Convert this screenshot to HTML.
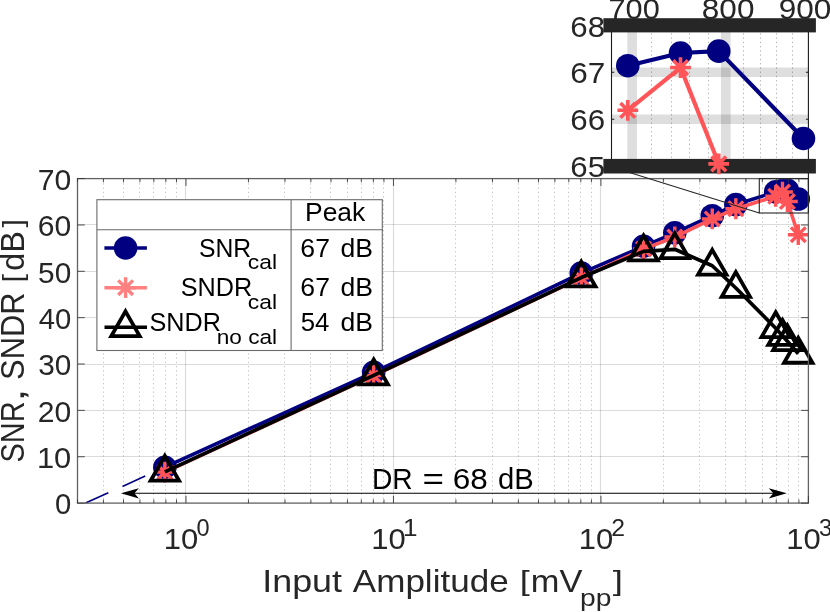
<!DOCTYPE html>
<html><head><meta charset="utf-8"><title>SNR, SNDR vs Input Amplitude</title>
<style>html,body{margin:0;padding:0;background:#fff;}body{width:830px;height:612px;overflow:hidden;font-family:"Liberation Sans",sans-serif;}svg{display:block;will-change:transform;}</style></head>
<body>
<svg width="830" height="612" viewBox="0 0 830 612" font-family="'Liberation Sans', sans-serif">
<rect width="830" height="612" fill="#fff"/>
<g stroke="#000" stroke-opacity="0.23" stroke-width="1" stroke-dasharray="1.3 2.95"><line x1="103.50" y1="179.0" x2="103.50" y2="503.1"/><line x1="123.50" y1="179.0" x2="123.50" y2="503.1"/><line x1="139.50" y1="179.0" x2="139.50" y2="503.1"/><line x1="153.50" y1="179.0" x2="153.50" y2="503.1"/><line x1="165.50" y1="179.0" x2="165.50" y2="503.1"/><line x1="176.50" y1="179.0" x2="176.50" y2="503.1"/><line x1="248.50" y1="179.0" x2="248.50" y2="503.1"/><line x1="284.50" y1="179.0" x2="284.50" y2="503.1"/><line x1="310.50" y1="179.0" x2="310.50" y2="503.1"/><line x1="330.50" y1="179.0" x2="330.50" y2="503.1"/><line x1="347.50" y1="179.0" x2="347.50" y2="503.1"/><line x1="361.50" y1="179.0" x2="361.50" y2="503.1"/><line x1="373.50" y1="179.0" x2="373.50" y2="503.1"/><line x1="383.50" y1="179.0" x2="383.50" y2="503.1"/><line x1="455.50" y1="179.0" x2="455.50" y2="503.1"/><line x1="492.50" y1="179.0" x2="492.50" y2="503.1"/><line x1="518.50" y1="179.0" x2="518.50" y2="503.1"/><line x1="538.50" y1="179.0" x2="538.50" y2="503.1"/><line x1="554.50" y1="179.0" x2="554.50" y2="503.1"/><line x1="568.50" y1="179.0" x2="568.50" y2="503.1"/><line x1="580.50" y1="179.0" x2="580.50" y2="503.1"/><line x1="591.50" y1="179.0" x2="591.50" y2="503.1"/><line x1="663.50" y1="179.0" x2="663.50" y2="503.1"/><line x1="699.50" y1="179.0" x2="699.50" y2="503.1"/><line x1="725.50" y1="179.0" x2="725.50" y2="503.1"/><line x1="745.50" y1="179.0" x2="745.50" y2="503.1"/><line x1="762.50" y1="179.0" x2="762.50" y2="503.1"/><line x1="776.50" y1="179.0" x2="776.50" y2="503.1"/><line x1="788.50" y1="179.0" x2="788.50" y2="503.1"/><line x1="798.50" y1="179.0" x2="798.50" y2="503.1"/></g>
<g stroke="#000" stroke-opacity="0.14" stroke-width="1.2"><line x1="185.50" y1="178.6" x2="185.50" y2="503.1"/><line x1="393.50" y1="178.6" x2="393.50" y2="503.1"/><line x1="600.50" y1="178.6" x2="600.50" y2="503.1"/><line x1="77.5" y1="456.50" x2="808.4" y2="456.50"/><line x1="77.5" y1="410.50" x2="808.4" y2="410.50"/><line x1="77.5" y1="364.50" x2="808.4" y2="364.50"/><line x1="77.5" y1="317.50" x2="808.4" y2="317.50"/><line x1="77.5" y1="271.50" x2="808.4" y2="271.50"/><line x1="77.5" y1="224.50" x2="808.4" y2="224.50"/></g>
<line x1="85.57" y1="503.1" x2="164.86" y2="467.22" stroke="#000080" stroke-width="1.6" stroke-dasharray="25 15.5"/>
<polyline fill="none" stroke="#000080" stroke-width="3.6" stroke-linejoin="round" points="164.86,467.22 373.69,372.28 581.27,273.17 643.56,246.28 674.79,232.84 712.25,215.69 735.85,204.56 775.71,191.86 782.48,190.61 787.39,190.42 798.27,199.04" />
<circle cx="164.86" cy="467.22" r="11.8" fill="#000080"/>
<circle cx="373.69" cy="372.28" r="11.8" fill="#000080"/>
<circle cx="581.27" cy="273.17" r="11.8" fill="#000080"/>
<circle cx="643.56" cy="246.28" r="11.8" fill="#000080"/>
<circle cx="674.79" cy="232.84" r="11.8" fill="#000080"/>
<circle cx="712.25" cy="215.69" r="11.8" fill="#000080"/>
<circle cx="735.85" cy="204.56" r="11.8" fill="#000080"/>
<circle cx="775.71" cy="191.86" r="11.8" fill="#000080"/>
<circle cx="782.48" cy="190.61" r="11.8" fill="#000080"/>
<circle cx="787.39" cy="190.42" r="11.8" fill="#000080"/>
<circle cx="798.27" cy="199.04" r="11.8" fill="#000080"/>
<polyline fill="none" stroke="#ff5558" stroke-width="3.6" stroke-linejoin="round" points="164.86,472.09 373.69,375.62 581.27,277.80 643.56,249.06 674.79,237.01 712.25,218.93 735.85,208.73 775.71,196.26 782.48,192.04 787.39,201.55 798.27,234.69" />
<path d="M154.46 472.09H175.26M164.86 461.69V482.49M157.50 464.73L172.21 479.44M157.50 479.44L172.21 464.73" stroke="#ff5558" stroke-width="3.4" fill="none"/>
<path d="M363.29 375.62H384.09M373.69 365.22V386.02M366.33 368.26L381.04 382.97M366.33 382.97L381.04 368.26" stroke="#ff5558" stroke-width="3.4" fill="none"/>
<path d="M570.87 277.80H591.67M581.27 267.40V288.20M573.92 270.45L588.62 285.16M573.92 285.16L588.62 270.45" stroke="#ff5558" stroke-width="3.4" fill="none"/>
<path d="M633.16 249.06H653.96M643.56 238.66V259.46M636.20 241.71L650.91 256.42M636.20 256.42L650.91 241.71" stroke="#ff5558" stroke-width="3.4" fill="none"/>
<path d="M664.39 237.01H685.19M674.79 226.61V247.41M667.44 229.66L682.15 244.36M667.44 244.36L682.15 229.66" stroke="#ff5558" stroke-width="3.4" fill="none"/>
<path d="M701.85 218.93H722.65M712.25 208.53V229.33M704.89 211.58L719.60 226.28M704.89 226.28L719.60 211.58" stroke="#ff5558" stroke-width="3.4" fill="none"/>
<path d="M725.45 208.73H746.25M735.85 198.33V219.13M728.49 201.38L743.20 216.09M728.49 216.09L743.20 201.38" stroke="#ff5558" stroke-width="3.4" fill="none"/>
<path d="M765.31 196.26H786.11M775.71 185.86V206.66M768.35 188.91L783.06 203.62M768.35 203.62L783.06 188.91" stroke="#ff5558" stroke-width="3.4" fill="none"/>
<path d="M772.08 192.04H792.88M782.48 181.64V202.44M775.12 184.69L789.83 199.40M775.12 199.40L789.83 184.69" stroke="#ff5558" stroke-width="3.4" fill="none"/>
<path d="M776.99 201.55H797.79M787.39 191.15V211.95M780.03 194.19L794.74 208.90M780.03 208.90L794.74 194.19" stroke="#ff5558" stroke-width="3.4" fill="none"/>
<path d="M787.87 234.69H808.67M798.27 224.29V245.09M790.92 227.34L805.63 242.05M790.92 242.05L805.63 227.34" stroke="#ff5558" stroke-width="3.4" fill="none"/>
<polyline fill="none" stroke="#000" stroke-width="3.7" stroke-linejoin="round" points="164.86,471.81 373.69,375.39 581.27,277.57 643.56,251.38 674.79,249.29 712.25,265.75 735.85,288.00 775.71,328.19 782.48,335.89 787.39,341.31 798.27,353.83" />
<path d="M164.86 455.91L179.06 480.71H150.66Z" fill="none" stroke="#000" stroke-width="3.8" stroke-linejoin="miter" stroke-miterlimit="10"/>
<path d="M373.69 359.49L387.89 384.29H359.49Z" fill="none" stroke="#000" stroke-width="3.8" stroke-linejoin="miter" stroke-miterlimit="10"/>
<path d="M581.27 261.67L595.47 286.47H567.07Z" fill="none" stroke="#000" stroke-width="3.8" stroke-linejoin="miter" stroke-miterlimit="10"/>
<path d="M643.56 235.48L657.76 260.28H629.36Z" fill="none" stroke="#000" stroke-width="3.8" stroke-linejoin="miter" stroke-miterlimit="10"/>
<path d="M674.79 233.39L688.99 258.19H660.59Z" fill="none" stroke="#000" stroke-width="3.8" stroke-linejoin="miter" stroke-miterlimit="10"/>
<path d="M712.25 249.85L726.45 274.65H698.05Z" fill="none" stroke="#000" stroke-width="3.8" stroke-linejoin="miter" stroke-miterlimit="10"/>
<path d="M735.85 272.10L750.05 296.90H721.65Z" fill="none" stroke="#000" stroke-width="3.8" stroke-linejoin="miter" stroke-miterlimit="10"/>
<path d="M775.71 312.29L789.91 337.09H761.51Z" fill="none" stroke="#000" stroke-width="3.8" stroke-linejoin="miter" stroke-miterlimit="10"/>
<path d="M782.48 319.99L796.68 344.79H768.28Z" fill="none" stroke="#000" stroke-width="3.8" stroke-linejoin="miter" stroke-miterlimit="10"/>
<path d="M787.39 325.41L801.59 350.21H773.19Z" fill="none" stroke="#000" stroke-width="3.8" stroke-linejoin="miter" stroke-miterlimit="10"/>
<path d="M798.27 337.93L812.47 362.73H784.07Z" fill="none" stroke="#000" stroke-width="3.8" stroke-linejoin="miter" stroke-miterlimit="10"/>
<rect x="77.5" y="178.6" width="730.90" height="324.50" fill="none" stroke="#626262" stroke-width="1.3"/>
<g stroke="#3a3a3a" stroke-width="0.9" fill="none"><path d="M77.50 503.1v-3.65M77.50 178.6v3.65"/><path d="M103.42 503.1v-3.65M103.42 178.6v3.65"/><path d="M123.53 503.1v-3.65M123.53 178.6v3.65"/><path d="M139.96 503.1v-3.65M139.96 178.6v3.65"/><path d="M153.85 503.1v-3.65M153.85 178.6v3.65"/><path d="M165.88 503.1v-3.65M165.88 178.6v3.65"/><path d="M176.49 503.1v-3.65M176.49 178.6v3.65"/><path d="M185.98 503.1v-7.3M185.98 178.6v7.3"/><path d="M248.44 503.1v-3.65M248.44 178.6v3.65"/><path d="M284.97 503.1v-3.65M284.97 178.6v3.65"/><path d="M310.89 503.1v-3.65M310.89 178.6v3.65"/><path d="M331.00 503.1v-3.65M331.00 178.6v3.65"/><path d="M347.43 503.1v-3.65M347.43 178.6v3.65"/><path d="M361.32 503.1v-3.65M361.32 178.6v3.65"/><path d="M373.35 503.1v-3.65M373.35 178.6v3.65"/><path d="M383.96 503.1v-3.65M383.96 178.6v3.65"/><path d="M393.46 503.1v-7.3M393.46 178.6v7.3"/><path d="M455.91 503.1v-3.65M455.91 178.6v3.65"/><path d="M492.44 503.1v-3.65M492.44 178.6v3.65"/><path d="M518.37 503.1v-3.65M518.37 178.6v3.65"/><path d="M538.47 503.1v-3.65M538.47 178.6v3.65"/><path d="M554.90 503.1v-3.65M554.90 178.6v3.65"/><path d="M568.79 503.1v-3.65M568.79 178.6v3.65"/><path d="M580.82 503.1v-3.65M580.82 178.6v3.65"/><path d="M591.43 503.1v-3.65M591.43 178.6v3.65"/><path d="M600.93 503.1v-7.3M600.93 178.6v7.3"/><path d="M663.38 503.1v-3.65M663.38 178.6v3.65"/><path d="M699.92 503.1v-3.65M699.92 178.6v3.65"/><path d="M725.84 503.1v-3.65M725.84 178.6v3.65"/><path d="M745.94 503.1v-3.65M745.94 178.6v3.65"/><path d="M762.37 503.1v-3.65M762.37 178.6v3.65"/><path d="M776.26 503.1v-3.65M776.26 178.6v3.65"/><path d="M788.29 503.1v-3.65M788.29 178.6v3.65"/><path d="M798.91 503.1v-3.65M798.91 178.6v3.65"/><path d="M808.40 503.1v-7.3M808.40 178.6v7.3"/><path d="M77.5 503.10h7.3M808.4 503.10h-7.3"/><path d="M77.5 456.74h7.3M808.4 456.74h-7.3"/><path d="M77.5 410.39h7.3M808.4 410.39h-7.3"/><path d="M77.5 364.03h7.3M808.4 364.03h-7.3"/><path d="M77.5 317.67h7.3M808.4 317.67h-7.3"/><path d="M77.5 271.31h7.3M808.4 271.31h-7.3"/><path d="M77.5 224.96h7.3M808.4 224.96h-7.3"/><path d="M77.5 178.60h7.3M808.4 178.60h-7.3"/></g>
<rect x="759.3" y="178.6" width="49.10" height="34.40" fill="none" stroke="#262626" stroke-width="1.1"/>
<line x1="759.3" y1="213" x2="611.8" y2="167.0" stroke="#262626" stroke-width="1.1"/>
<line x1="130" y1="493.3" x2="778" y2="493.3" stroke="#000" stroke-width="1.1"/>
<path d="M120.9 493.3L138.9 488.2L134.4 493.3L138.9 498.40000000000003Z" fill="#000"/>
<path d="M786.8 493.3L768.8 488.2L773.3 493.3L768.8 498.40000000000003Z" fill="#000"/>
<text x="371.99" y="488.70" font-size="29" textLength="40.72" lengthAdjust="spacingAndGlyphs" fill="#000" >DR</text><text x="422.44" y="488.70" font-size="29" textLength="21.46" lengthAdjust="spacingAndGlyphs" fill="#000" >=</text><text x="452.72" y="488.70" font-size="29" textLength="35.04" lengthAdjust="spacingAndGlyphs" fill="#000" >68</text><text x="497.97" y="488.70" font-size="29" textLength="35.75" lengthAdjust="spacingAndGlyphs" fill="#000" >dB</text>
<text x="54.96" y="514.30" font-size="30" textLength="16.26" lengthAdjust="spacingAndGlyphs" fill="#262626" >0</text>
<text x="36.95" y="467.94" font-size="30" textLength="34.33" lengthAdjust="spacingAndGlyphs" fill="#262626" >10</text>
<text x="37.80" y="421.59" font-size="30" textLength="33.46" lengthAdjust="spacingAndGlyphs" fill="#262626" >20</text>
<text x="38.17" y="375.23" font-size="30" textLength="33.07" lengthAdjust="spacingAndGlyphs" fill="#262626" >30</text>
<text x="38.66" y="328.87" font-size="30" textLength="32.57" lengthAdjust="spacingAndGlyphs" fill="#262626" >40</text>
<text x="38.11" y="282.51" font-size="30" textLength="33.13" lengthAdjust="spacingAndGlyphs" fill="#262626" >50</text>
<text x="37.80" y="236.16" font-size="30" textLength="33.46" lengthAdjust="spacingAndGlyphs" fill="#262626" >60</text>
<text x="37.76" y="189.80" font-size="30" textLength="33.49" lengthAdjust="spacingAndGlyphs" fill="#262626" >70</text>
<text x="163.85" y="549.20" font-size="30" textLength="34.44" lengthAdjust="spacingAndGlyphs" fill="#262626" >10</text>
<text x="196.58" y="535.50" font-size="23.4" textLength="13.12" lengthAdjust="spacingAndGlyphs" fill="#262626" >0</text>
<text x="371.32" y="549.20" font-size="30" textLength="34.44" lengthAdjust="spacingAndGlyphs" fill="#262626" >10</text>
<text x="402.98" y="535.50" font-size="23.4" textLength="14.55" lengthAdjust="spacingAndGlyphs" fill="#262626" >1</text>
<text x="578.79" y="549.20" font-size="30" textLength="34.44" lengthAdjust="spacingAndGlyphs" fill="#262626" >10</text>
<text x="611.21" y="535.50" font-size="23.4" textLength="13.78" lengthAdjust="spacingAndGlyphs" fill="#262626" >2</text>
<text x="786.26" y="549.20" font-size="30" textLength="34.44" lengthAdjust="spacingAndGlyphs" fill="#262626" >10</text>
<text x="819.01" y="535.50" font-size="23.4" textLength="13.23" lengthAdjust="spacingAndGlyphs" fill="#262626" >3</text>
<text x="262.31" y="592.00" font-size="32" textLength="79.65" lengthAdjust="spacingAndGlyphs" fill="#262626" >Input</text><text x="352.83" y="592.00" font-size="32" textLength="155.81" lengthAdjust="spacingAndGlyphs" fill="#262626" >Amplitude</text><text x="530.83" y="592.00" font-size="32" textLength="51.61" lengthAdjust="spacingAndGlyphs" fill="#262626" >mV</text>
<text x="519.74" y="590.00" font-size="28.4" textLength="10.00" lengthAdjust="spacingAndGlyphs" fill="#262626" >[</text>
<text x="580.00" y="605.60" font-size="23" textLength="31.37" lengthAdjust="spacingAndGlyphs" fill="#262626" >pp</text>
<text x="612.84" y="590.00" font-size="28.4" textLength="10.14" lengthAdjust="spacingAndGlyphs" fill="#262626" >]</text>
<g transform="translate(23.5,0) rotate(-90)"><text x="-462.50" y="0.00" font-size="32.5" textLength="61.15" lengthAdjust="spacingAndGlyphs" fill="#262626" >SNR</text><text x="-401.64" y="0.00" font-size="32.5" textLength="12.91" lengthAdjust="spacingAndGlyphs" fill="#262626" >,</text><text x="-379.89" y="0.00" font-size="32.5" textLength="87.32" lengthAdjust="spacingAndGlyphs" fill="#262626" >SNDR</text><text x="-270.66" y="0.00" font-size="32.5" textLength="39.65" lengthAdjust="spacingAndGlyphs" fill="#262626" >dB</text><text x="-282.60" y="-2.00" font-size="28.4" textLength="8.61" lengthAdjust="spacingAndGlyphs" fill="#262626" >[</text><text x="-227.51" y="-2.00" font-size="28.4" textLength="8.33" lengthAdjust="spacingAndGlyphs" fill="#262626" >]</text></g>
<rect x="96.9" y="199.7" width="285.40" height="150.80" fill="#fff" stroke="#6a6a6a" stroke-width="1.1"/>
<path d="M96.9 229.7H382.3M291.1 199.7V350.5" stroke="#6a6a6a" stroke-width="1.1" fill="none"/>
<line x1="104.4" y1="248" x2="146.9" y2="248" stroke="#000080" stroke-width="3.5"/><circle cx="125.6" cy="248" r="11.8" fill="#000080"/>
<line x1="104.4" y1="287.7" x2="146.9" y2="287.7" stroke="#ff8080" stroke-width="3.5"/><path d="M115.20 287.70H136.00M125.60 277.30V298.10M118.25 280.35L132.95 295.05M118.25 295.05L132.95 280.35" stroke="#ff8080" stroke-width="3.4" fill="none"/>
<line x1="104.5" y1="327.25" x2="147" y2="327.25" stroke="#000" stroke-width="3.5"/><path d="M125.50 311.35L139.70 336.15H111.30Z" fill="none" stroke="#000" stroke-width="3.8" stroke-linejoin="miter" stroke-miterlimit="10"/>
<text x="305.03" y="221.10" font-size="25.7" textLength="60.22" lengthAdjust="spacingAndGlyphs" fill="#000" >Peak</text>
<text x="300.37" y="256.70" font-size="25.7" textLength="29.57" lengthAdjust="spacingAndGlyphs" fill="#000" >67</text><text x="340.58" y="256.70" font-size="25.7" textLength="32.50" lengthAdjust="spacingAndGlyphs" fill="#000" >dB</text>
<text x="300.37" y="296.00" font-size="25.7" textLength="29.57" lengthAdjust="spacingAndGlyphs" fill="#000" >67</text><text x="340.58" y="296.00" font-size="25.7" textLength="32.50" lengthAdjust="spacingAndGlyphs" fill="#000" >dB</text>
<text x="300.67" y="331.00" font-size="25.7" textLength="28.69" lengthAdjust="spacingAndGlyphs" fill="#000" >54</text><text x="340.58" y="331.00" font-size="25.7" textLength="32.50" lengthAdjust="spacingAndGlyphs" fill="#000" >dB</text>
<text x="198.99" y="256.90" font-size="25.7" textLength="52.26" lengthAdjust="spacingAndGlyphs" fill="#000" >SNR</text>
<text x="247.84" y="269.20" font-size="20.1" textLength="29.28" lengthAdjust="spacingAndGlyphs" fill="#000" >cal</text>
<text x="180.76" y="296.20" font-size="25.7" textLength="71.51" lengthAdjust="spacingAndGlyphs" fill="#000" >SNDR</text>
<text x="247.84" y="308.90" font-size="20.1" textLength="29.28" lengthAdjust="spacingAndGlyphs" fill="#000" >cal</text>
<text x="149.47" y="331.20" font-size="25.7" textLength="71.41" lengthAdjust="spacingAndGlyphs" fill="#000" >SNDR</text>
<text x="216.71" y="343.60" font-size="20.1" textLength="60.40" lengthAdjust="spacingAndGlyphs" fill="#000" >no cal</text>
<rect x="611.8" y="25.3" width="196.60" height="140.90" fill="#fff"/>
<g stroke="#000" stroke-opacity="0.3" stroke-width="1" stroke-dasharray="1.3 2.95"><line x1="651.50" y1="33.3" x2="651.50" y2="159.2"/><line x1="671.50" y1="33.3" x2="671.50" y2="159.2"/><line x1="689.50" y1="33.3" x2="689.50" y2="159.2"/><line x1="708.50" y1="33.3" x2="708.50" y2="159.2"/><line x1="743.50" y1="33.3" x2="743.50" y2="159.2"/><line x1="760.50" y1="33.3" x2="760.50" y2="159.2"/><line x1="776.50" y1="33.3" x2="776.50" y2="159.2"/><line x1="792.50" y1="33.3" x2="792.50" y2="159.2"/></g>
<g stroke="#000" stroke-opacity="0.13" stroke-width="9.7"><line x1="632.13" y1="25.3" x2="632.13" y2="166.2"/></g>
<g stroke="#000" stroke-opacity="0.13" stroke-width="9.7"><line x1="725.79" y1="25.3" x2="725.79" y2="166.2"/></g>
<g stroke="#000" stroke-opacity="0.13" stroke-width="9.7"><line x1="611.8" y1="119.23" x2="808.4" y2="119.23"/></g>
<g stroke="#000" stroke-opacity="0.13" stroke-width="9.7"><line x1="611.8" y1="72.27" x2="808.4" y2="72.27"/></g>
<path d="M611.5 25.3V166.2M808.4 25.3V178.6" stroke="#1a1a1a" stroke-width="1.1" fill="none"/>
<path d="M611.8 119.23h2.5M611.8 72.27h2.5M808.4 119.23h-2.5M808.4 72.27h-2.5" stroke="#1a1a1a" stroke-width="1.1" fill="none"/>
<rect x="603.4" y="18.2" width="212.50" height="14.2" fill="#262626"/>
<rect x="603.4" y="158.9" width="212.50" height="14.6" fill="#262626"/>
<polyline fill="none" stroke="#000080" stroke-width="4.2" stroke-linejoin="round" points="627.81,65.69 680.52,53.01 718.74,51.13 803.47,138.49" />
<circle cx="627.81" cy="65.69" r="11.8" fill="#000080"/>
<circle cx="680.52" cy="53.01" r="11.8" fill="#000080"/>
<circle cx="718.74" cy="51.13" r="11.8" fill="#000080"/>
<circle cx="803.47" cy="138.49" r="11.8" fill="#000080"/>
<polyline fill="none" stroke="#ff5558" stroke-width="4.2" stroke-linejoin="round" points="627.81,110.31 680.52,67.57 718.74,163.85" />
<path d="M617.41 110.31H638.21M627.81 99.91V120.71M620.46 102.96L635.16 117.66M620.46 117.66L635.16 102.96" stroke="#ff5558" stroke-width="3.6" fill="none"/>
<path d="M670.12 67.57H690.92M680.52 57.17V77.97M673.17 60.22L687.88 74.92M673.17 74.92L687.88 60.22" stroke="#ff5558" stroke-width="3.6" fill="none"/>
<path d="M708.34 163.85H729.14M718.74 153.45V174.25M711.39 156.50L726.09 171.21M711.39 171.21L726.09 156.50" stroke="#ff5558" stroke-width="3.6" fill="none"/>
<text x="570.33" y="36.50" font-size="30" textLength="34.82" lengthAdjust="spacingAndGlyphs" fill="#262626" >68</text>
<text x="570.32" y="83.47" font-size="30" textLength="35.06" lengthAdjust="spacingAndGlyphs" fill="#262626" >67</text>
<text x="570.33" y="130.43" font-size="30" textLength="34.82" lengthAdjust="spacingAndGlyphs" fill="#262626" >66</text>
<text x="570.34" y="177.40" font-size="30" textLength="34.75" lengthAdjust="spacingAndGlyphs" fill="#262626" >65</text>
<text x="608.53" y="18.60" font-size="30" textLength="51.25" lengthAdjust="spacingAndGlyphs" fill="#262626" >700</text>
<text x="701.85" y="18.60" font-size="30" textLength="52.57" lengthAdjust="spacingAndGlyphs" fill="#262626" >800</text>
<text x="778.75" y="18.60" font-size="30" textLength="52.67" lengthAdjust="spacingAndGlyphs" fill="#262626" >900</text>
</svg>
</body></html>
